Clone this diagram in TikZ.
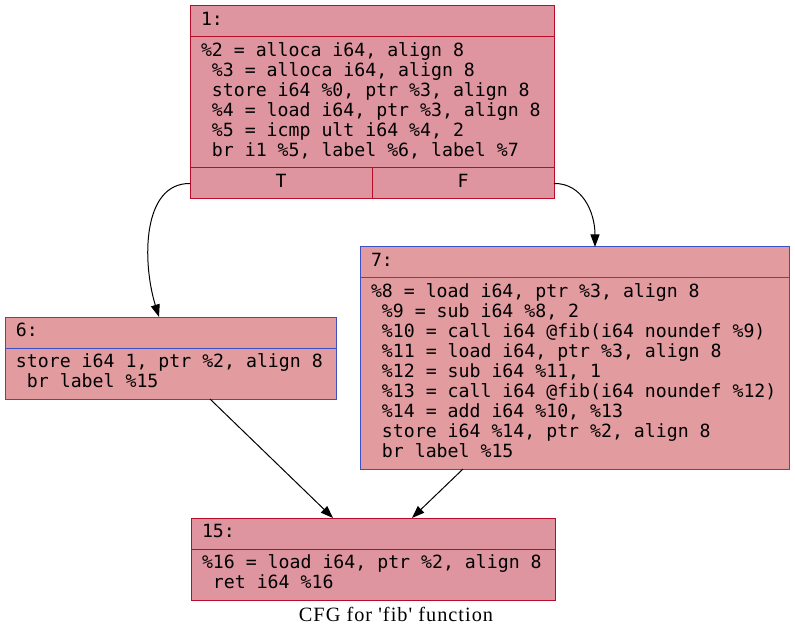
\documentclass[tikz,border=0pt]{standalone}
\usepackage{fontspec}
\newfontfamily\irfont{DejaVu Sans Mono}
\newfontfamily\titlefont[LetterSpace=5]{Liberation Serif}
\usetikzlibrary{arrows.meta}
\usetikzlibrary{positioning}
\definecolor{hotline}{HTML}{B70D28}
\definecolor{hotfill}{RGB}{223,149,160}
\definecolor{coldline}{HTML}{3D50C3}
\definecolor{coldfill}{RGB}{226,156,160}
\newcommand{\lsp}{\hphantom{0}}
\tikzset{
    bb/.style = {rectangle, line width=1pt, outer sep=0pt, inner xsep=11pt,
        inner ysep=5.5pt, align=flush left,
        font=\irfont\fontsize{18.2}{20}\selectfont,
        execute at begin node={\spaceskip=0pt\xspaceskip=0pt\strut},
        execute at end node=\strut},
    bb_hot/.style = {bb, draw=hotline, fill=hotfill},% bloc chaud
    bb_cold/.style = {bb, draw=coldline, fill=coldfill},% bloc froid
    bb_port/.style = {text width=160pt, align=center},% case T / F
    edge/.style = {->, line width=1pt, black},
}

\begin{document}
\begin{tikzpicture}[x=1pt, y=-1pt, >={Triangle[length=12.5pt,width=9pt]}]
\useasboundingbox (0,0) rectangle (795,636);
% bloc 1
\node [bb_hot, text width=342pt, anchor=north west] (b1h) at (190,6) {1:};
\node [bb_hot, text width=342pt, below=0pt of b1h] (b1) {\%2 = alloca i64, align 8\\
    \lsp\%3 = alloca i64, align 8\\
    \lsp store i64 \%0, ptr \%3, align 8\\
    \lsp\%4 = load i64, ptr \%3, align 8\\
    \lsp\%5 = icmp ult i64 \%4, 2\\
    \lsp br i1 \%5, label \%6, label \%7};
\node [bb_hot, bb_port, anchor=north west] (b1t) at (b1.south west) {T};
\node [bb_hot, bb_port, right=0pt of b1t] (b1f) {F};
% bloc 6
\node [bb_cold, text width=309pt, anchor=north west] (b6h) at (5,317) {6:};
\node [bb_cold, text width=309pt, below=0pt of b6h] (b6) {store i64 1, ptr \%2, align 8\\
    \lsp br label \%15};
% bloc 7
\node [bb_cold, text width=407pt, anchor=north west] (b7h) at (360,247) {7:};
\node [bb_cold, text width=407pt, below=0pt of b7h] (b7) {\%8 = load i64, ptr \%3, align 8\\
    \lsp\%9 = sub i64 \%8, 2\\
    \lsp\%10 = call i64 @fib(i64 noundef \%9)\\
    \lsp\%11 = load i64, ptr \%3, align 8\\
    \lsp\%12 = sub i64 \%11, 1\\
    \lsp\%13 = call i64 @fib(i64 noundef \%12)\\
    \lsp\%14 = add i64 \%10, \%13\\
    \lsp store i64 \%14, ptr \%2, align 8\\
    \lsp br label \%15};
% bloc 15
\node [bb_hot, text width=342pt, anchor=north west] (b15h) at (191,518) {15:};
\node [bb_hot, text width=342pt, below=0pt of b15h] (b15) {\%16 = load i64, ptr \%2, align 8\\
    \lsp ret i64 \%16};
\node [font=\titlefont\fontsize{20.3}{24}\selectfont] (cap) at (396,614) {CFG for 'fib' function};
% arcs
\draw [edge] (b1t.west) .. controls (142,183) and (142,262) .. ([xshift=-11.5pt]b6h.north);
\draw [edge] (b1f.east) .. controls (582,183) and (595,212) .. ([xshift=20.5pt]b7h.north);
\draw [edge] ([xshift=39.5pt]b6.south) -- ([xshift=-40pt]b15h.north);
\draw [edge] ([xshift=-111.5pt]b7.south) -- ([xshift=39pt]b15h.north);
\end{tikzpicture}
\end{document}
